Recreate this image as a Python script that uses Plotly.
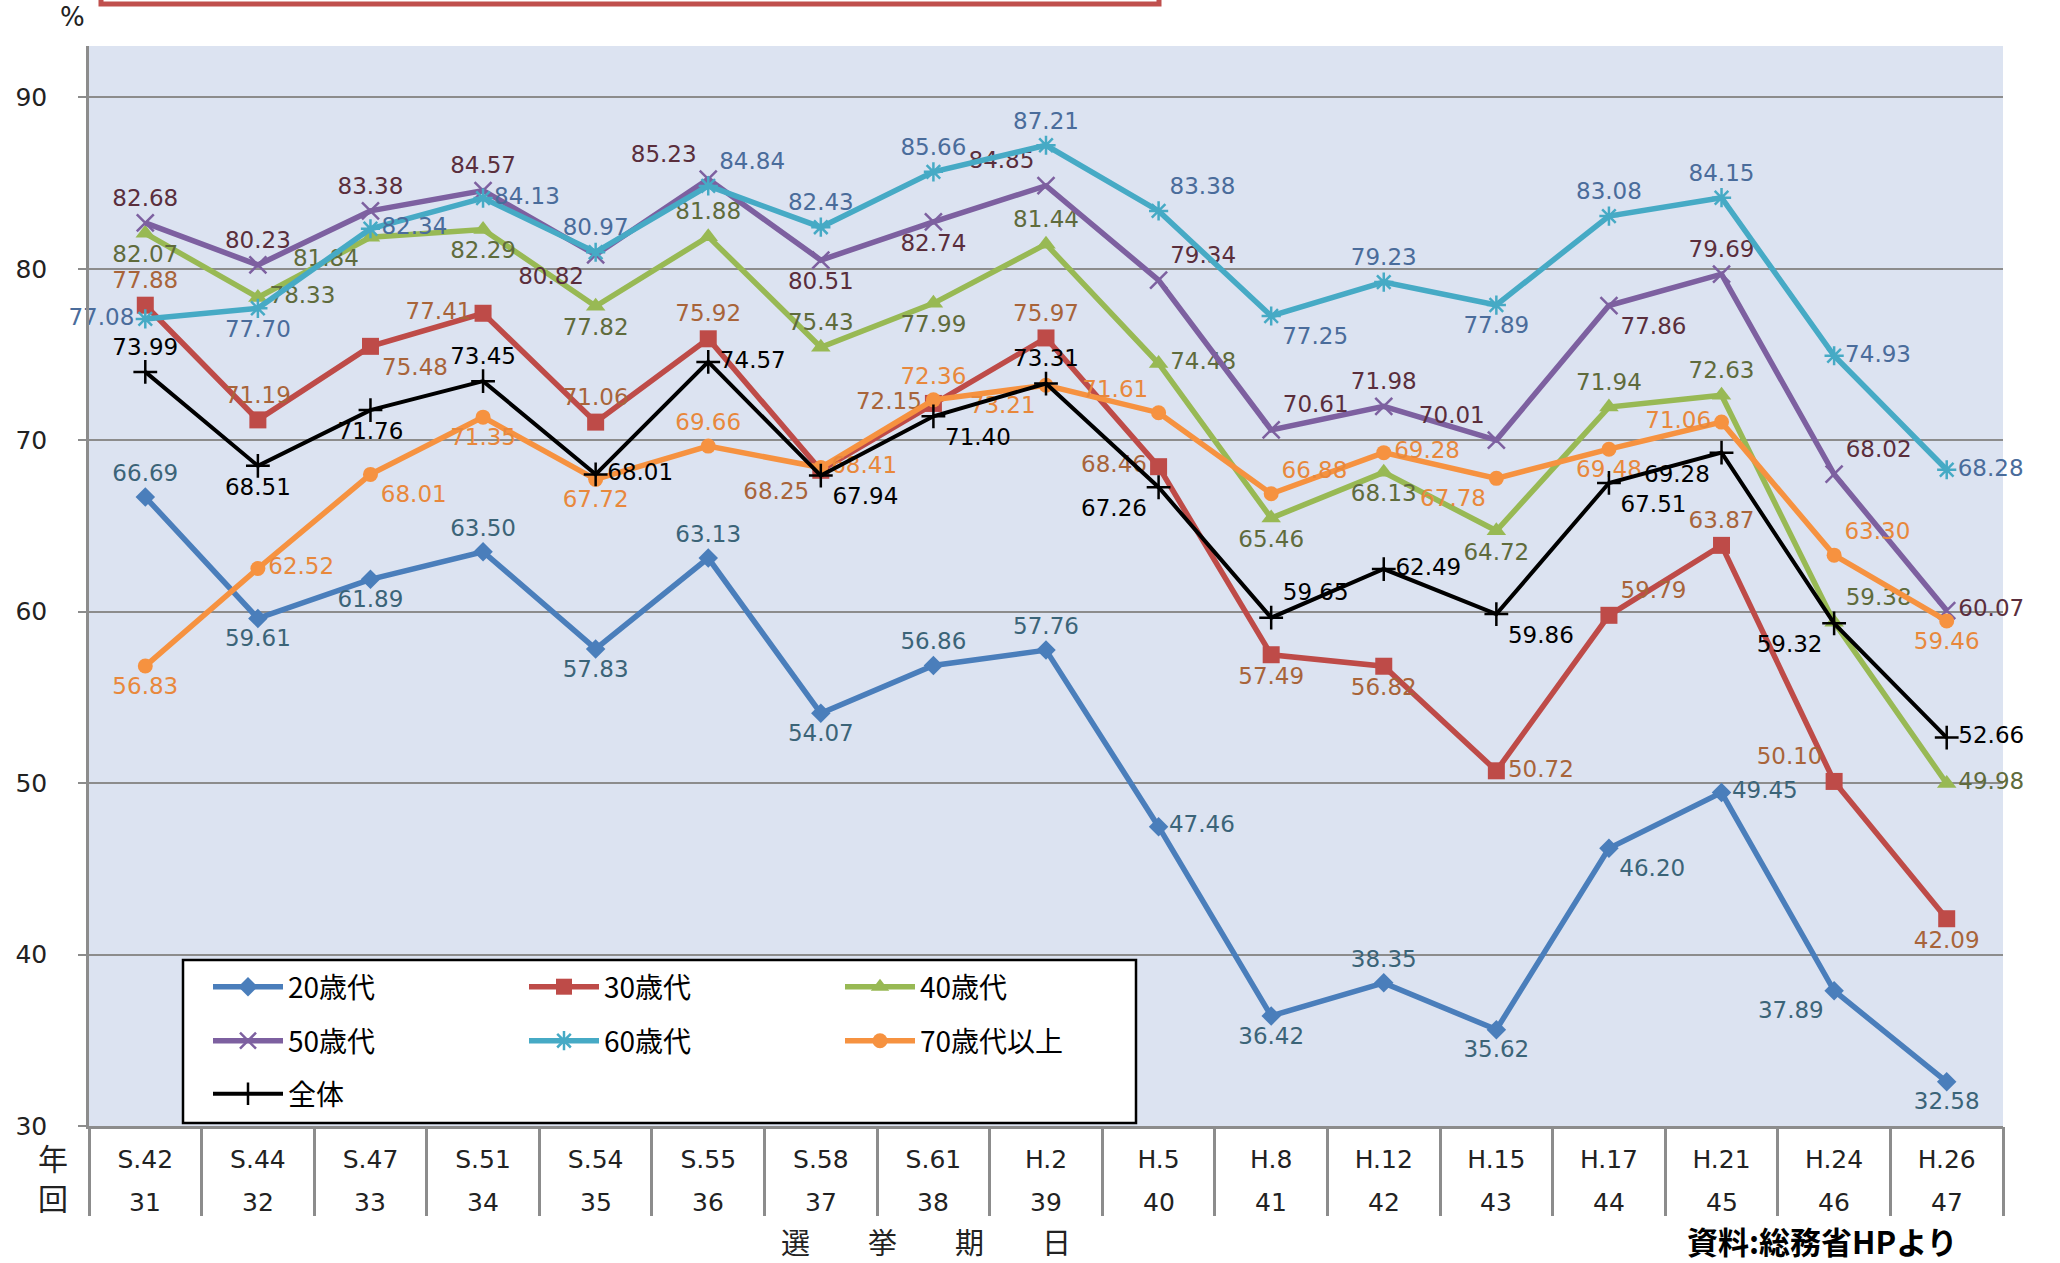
import plotly.graph_objects as go

# ---------------- data ----------------
dates = ["S.42", "S.44", "S.47", "S.51", "S.54", "S.55", "S.58", "S.61", "H.2",
         "H.5", "H.8", "H.12", "H.15", "H.17", "H.21", "H.24", "H.26"]
rounds = ["31", "32", "33", "34", "35", "36", "37", "38", "39",
          "40", "41", "42", "43", "44", "45", "46", "47"]

age20 = [66.69, 59.61, 61.89, 63.50, 57.83, 63.13, 54.07, 56.86, 57.76,
         47.46, 36.42, 38.35, 35.62, 46.20, 49.45, 37.89, 32.58]
age30 = [77.88, 71.19, 75.48, 77.41, 71.06, 75.92, 68.25, 72.15, 75.97,
         68.46, 57.49, 56.82, 50.72, 59.79, 63.87, 50.10, 42.09]
age40 = [82.07, 78.33, 81.84, 82.29, 77.82, 81.88, 75.43, 77.99, 81.44,
         74.48, 65.46, 68.13, 64.72, 71.94, 72.63, 59.38, 49.98]
age50 = [82.68, 80.23, 83.38, 84.57, 80.82, 85.23, 80.51, 82.74, 84.85,
         79.34, 70.61, 71.98, 70.01, 77.86, 79.69, 68.02, 60.07]
age60 = [77.08, 77.70, 82.34, 84.13, 80.97, 84.84, 82.43, 85.66, 87.21,
         83.38, 77.25, 79.23, 77.89, 83.08, 84.15, 74.93, 68.28]
age70 = [56.83, 62.52, 68.01, 71.35, 67.72, 69.66, 68.41, 72.36, 73.21,
         71.61, 66.88, 69.28, 67.78, 69.48, 71.06, 63.30, 59.46]
total = [73.99, 68.51, 71.76, 73.45, 68.01, 74.57, 67.94, 71.40, 73.31,
         67.26, 59.65, 62.49, 59.86, 67.51, 69.28, 59.32, 52.66]

names = ["20歳代", "30歳代", "40歳代", "50歳代", "60歳代", "70歳代以上", "全体"]
y_ticks = [30, 40, 50, 60, 70, 80, 90]

# ---------------- label placement (style) ----------------
TC, BC, TL, TR, BL, BR, ML, MR = ("top center", "bottom center", "top left", "top right",
                                  "bottom left", "bottom right", "middle left", "middle right")
pos20 = [TC, BC, BC, TC, BC, TC, BC, TC, TC, MR, BC, TC, BC, BR, MR, BL, BC]
pos30 = [TC, TC, BR, ML, TC, TC, BL, ML, TC, ML, BC, BC, MR, TR, TC, TL, BC]
pos40 = [BC, MR, BL, BC, BC, TC, TC, BC, TC, MR, BC, BC, BC, TC, TC, TR, MR]
pos50 = [TC, TC, TC, TC, BL, TL, BC, BC, TL, TR, TR, TC, TL, BR, TC, TR, MR]
pos60 = [ML, BC, MR, MR, TC, TR, TC, TC, TC, TR, BR, TC, BC, TC, TC, MR, MR]
pos70 = [BC, MR, BR, BC, BC, TC, MR, TC, BL, TL, TR, MR, BL, BC, ML, TR, BC]
posT = [TC, BC, BC, TC, MR, MR, BR, BR, TC, BL, TR, MR, BR, BR, BL, BL, MR]

series = [
    dict(y=age20, pos=pos20, color="#4A7EBB", tcolor="#3B6478", symbol="diamond", size=15, lw=5.5, legend="legend"),
    dict(y=age30, pos=pos30, color="#BE4B48", tcolor="#A8643A", symbol="square", size=17, lw=5.5, legend="legend"),
    dict(y=age40, pos=pos40, color="#98B954", tcolor="#5F6B3C", symbol="triangle-up", size=17, lw=5.5, legend="legend"),
    dict(y=age50, pos=pos50, color="#7D60A0", tcolor="#5A2E3C", symbol="x-thin-open", size=17, lw=5.5, legend="legend2"),
    dict(y=age60, pos=pos60, color="#46AAC5", tcolor="#4A6C9B", symbol="asterisk-open", size=16, lw=5.5, legend="legend2"),
    dict(y=age70, pos=pos70, color="#F69240", tcolor="#E8883C", symbol="circle", size=15, lw=5.5, legend="legend2"),
    dict(y=total, pos=posT, color="#000000", tcolor="#000000", symbol="cross-thin-open", size=17, lw=4, legend="legend3"),
]

fig = go.Figure()
for name, s in zip(names, series):
    open_sym = s["symbol"].endswith("open")
    fig.add_trace(go.Scatter(
        x=dates, y=s["y"], name=name, mode="lines+markers+text",
        line=dict(color=s["color"], width=s["lw"]),
        marker=dict(symbol=s["symbol"], size=s["size"], color=s["color"],
                    line=dict(color=s["color"], width=2.5 if open_sym else 0)),
        text=[f"{v:.2f}" for v in s["y"]], textposition=s["pos"],
        textfont=dict(family="DejaVu Sans", size=23, color=s["tcolor"]),
        cliponaxis=False, legend=s["legend"],
    ))

# invisible helper trace that gives the divider axis its categories
fig.add_trace(go.Scatter(x=dates, y=total, xaxis="x2", mode="lines",
                         line=dict(width=0, color="rgba(0,0,0,0)"),
                         showlegend=False, hoverinfo="skip"))

# geometry (reference pixel coordinates; page body margin removed below)
W, H = 2060, 1263
PL, PR, PT, PB = 89, 2003, 46, 1126          # plot area in reference pixels
L, T, R, B = PL, PT, W - PR, H - PB
PW, PH = PR - PL, PB - PT
def px(x):
    return (x - PL) / PW
def py(y):
    return (PB - y) / PH

leg_common = dict(orientation="h", xanchor="left", yanchor="middle",
                  entrywidth=231, entrywidthmode="pixels", itemwidth=70,
                  bgcolor="rgba(0,0,0,0)", borderwidth=0,
                  font=dict(family="Noto Sans CJK JP", size=28, color="#000000"),
                  traceorder="normal")
lx = px(208)

ann = [
    dict(text="%", xref="paper", yref="paper", x=px(72), y=py(17),
         xanchor="center", yanchor="middle", showarrow=False,
         font=dict(family="DejaVu Sans", size=26, color="#222222")),
    dict(text="年", xref="paper", yref="paper", x=px(53), y=py(1157),
         xanchor="center", yanchor="middle", showarrow=False,
         font=dict(family="Noto Sans CJK JP", size=30, color="#222222")),
    dict(text="回", xref="paper", yref="paper", x=px(53), y=py(1197),
         xanchor="center", yanchor="middle", showarrow=False,
         font=dict(family="Noto Sans CJK JP", size=30, color="#222222")),
    dict(text="選　　挙　　期　　日", xref="paper", yref="paper", x=px(926), y=py(1241),
         xanchor="center", yanchor="middle", showarrow=False,
         font=dict(family="Noto Sans CJK JP", size=29, color="#222222")),
    dict(text="<b>資料:総務省HPより</b>", xref="paper", yref="paper", x=px(1686), y=py(1264),
         xanchor="left", yanchor="bottom", showarrow=False, borderpad=0,
         font=dict(family="Noto Sans CJK JP", size=31, color="#000000")),
]
for d, r in zip(dates, rounds):
    ann.append(dict(text=r, xref="x", yref="paper", x=d, y=py(1202),
                    xanchor="center", yanchor="middle", showarrow=False,
                    font=dict(family="DejaVu Sans", size=25, color="#222222")))

fig.update_layout(
    width=W, height=H,
    margin=dict(l=L, r=R, t=T, b=B, autoexpand=False),
    paper_bgcolor="#FFFFFF", plot_bgcolor="#DCE3F1",
    showlegend=True,
    legend=dict(x=lx, y=py(987), **leg_common),
    legend2=dict(x=lx, y=py(1041), **leg_common),
    legend3=dict(x=lx, y=py(1094), **leg_common),
    xaxis=dict(type="category", range=[-0.5, 16.5], showgrid=False,
               showline=True, linecolor="#8C8C8C", linewidth=3, ticks="",
               ticklabelstandoff=9,
               tickfont=dict(family="DejaVu Sans", size=25, color="#222222")),
    xaxis2=dict(type="category", overlaying="x", anchor="y", side="bottom",
                range=[-0.5, 16.5], showgrid=False, showline=False,
                tickson="boundaries", ticks="outside", ticklen=89, tickwidth=2.5,
                tickcolor="#8C8C8C", showticklabels=False),
    yaxis=dict(range=[30, 93], tickvals=y_ticks, showgrid=True,
               gridcolor="#8C8C8C", gridwidth=1.5, zeroline=False,
               showline=True, linecolor="#8C8C8C", linewidth=2.5,
               ticks="outside", ticklen=8, tickcolor="#8C8C8C", tickwidth=1.5,
               ticklabelstandoff=26,
               tickfont=dict(family="DejaVu Sans", size=25, color="#222222")),
    shapes=[
        dict(type="rect", xref="paper", yref="paper",
             x0=px(183), x1=px(1136), y0=py(1123), y1=py(960),
             fillcolor="#FFFFFF", line=dict(color="#000000", width=2.5), layer="above"),
        dict(type="rect", xref="paper", yref="paper",
             x0=px(101), x1=px(1159), y0=py(4), y1=py(-40),
             fillcolor="rgba(0,0,0,0)", line=dict(color="#C0504D", width=5)),
    ],
    annotations=ann,
)

fig.write_html("out.html", config={"displayModeBar": False},
               post_script="document.body.style.margin='0px';document.body.style.overflow='hidden';")
